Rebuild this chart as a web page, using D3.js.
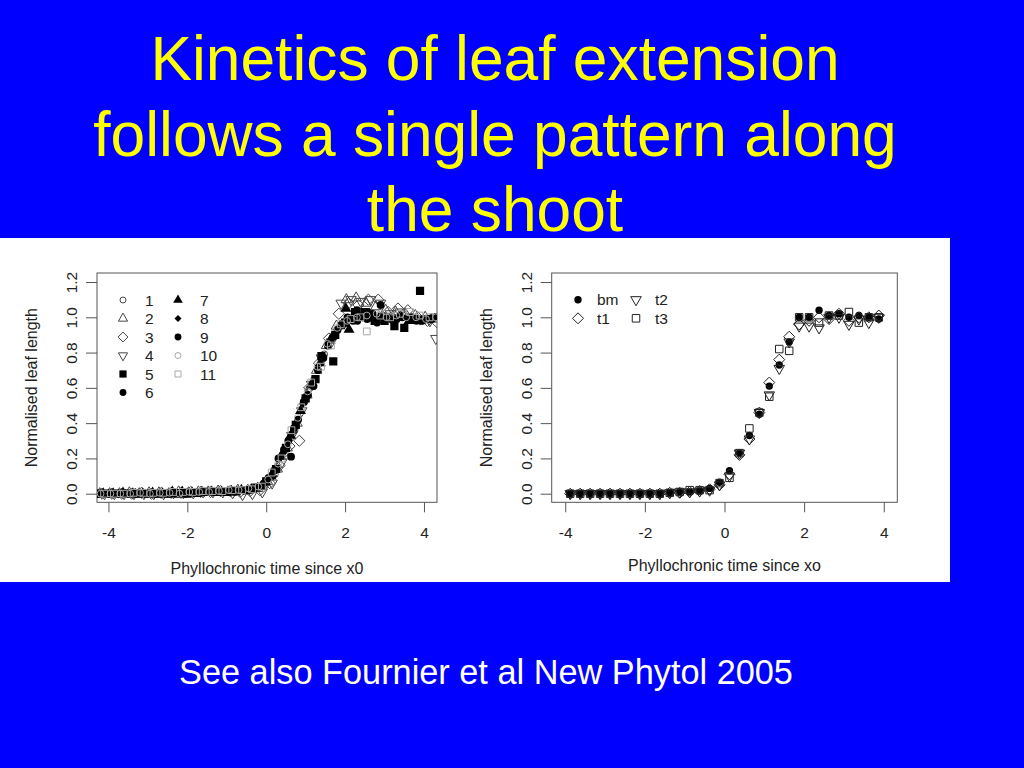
<!DOCTYPE html>
<html><head><meta charset="utf-8">
<script src="https://cdn.jsdelivr.net/npm/d3@7"></script>
<style>body{margin:0;background:#0000FF;} svg{display:block;}</style>
</head><body>
<svg id="c" width="1024" height="768"></svg>
<script>
// ---------- DATA ----------
const titleLines = ["Kinetics of leaf extension", "follows a single pattern along", "the shoot"];
const footnote = "See also Fournier et al New Phytol 2005";
const leftXLabel = "Phyllochronic time since x0";
const rightXLabel = "Phyllochronic time since xo";
const yLabel = "Normalised leaf length";
const xTicks = [-4, -2, 0, 2, 4];
const yTicks = [0.0, 0.2, 0.4, 0.6, 0.8, 1.0, 1.2];
const leftLegend = ["1","2","3","4","5","6","7","8","9","10","11"];
const rightLegend = ["bm","t1","t2","t3"];

const leaf1 = [[-4.28,0],[-4.03,0],[-3.78,0],[-3.53,0],[-3.28,0],[-3.03,0],[-2.78,0],[-2.53,0.005],[-2.28,0.005],[-2.03,0.01],[-1.78,0.01],[-1.53,0.01],[-1.28,0.01],[-1.03,0.015],[-0.78,0.015],[-0.53,0.02],[-0.28,0.03],[-0.03,0.05],[0.22,0.11],[0.47,0.23],[0.72,0.36],[0.97,0.52],[1.22,0.65],[1.47,0.79],[1.72,0.9],[1.97,0.97],[2.22,1.0],[2.47,1.02],[2.72,1.0],[2.97,1.01],[3.22,1.0],[3.47,1.02],[3.72,0.99],[3.97,0.98],[4.22,1.0]];
const leaf2 = [[-4.22,0],[-3.97,0],[-3.72,0],[-3.47,0.005],[-3.22,0],[-2.97,0.005],[-2.72,0.005],[-2.47,0],[-2.22,0.01],[-1.97,0.005],[-1.72,0.01],[-1.47,0.01],[-1.22,0.015],[-0.97,0.01],[-0.72,0.02],[-0.47,0.02],[-0.22,0.03],[0.03,0.07],[0.28,0.14],[0.53,0.26],[0.78,0.4],[1.03,0.56],[1.28,0.7],[1.53,0.84],[1.78,0.95],[2.03,1.1],[2.28,1.11],[2.53,1.08],[2.78,1.06],[3.03,1.04],[3.28,1.03],[3.53,1.02],[3.78,1.01],[4.03,1.0],[4.28,0.99]];
const leaf3 = [[-4.16,0],[-3.91,0],[-3.66,0],[-3.41,0],[-3.16,0.005],[-2.91,0],[-2.66,0.005],[-2.41,0.005],[-2.16,0.005],[-1.91,0.01],[-1.66,0.01],[-1.41,0.01],[-1.16,0.015],[-0.91,0.015],[-0.66,0.01],[-0.41,0.015],[-0.16,0.02],[0.09,0.06],[0.34,0.16],[0.59,0.27],[0.84,0.3],[1.09,0.6],[1.34,0.74],[1.59,0.88],[1.84,1.02],[2.09,1.08],[2.34,1.07],[2.59,1.1],[2.84,1.1],[3.09,1.03],[3.34,1.05],[3.59,1.04],[3.84,1.0],[4.09,0.98],[4.34,0.97]];
const leaf4 = [[-4.10,0],[-3.85,0],[-3.60,0],[-3.35,0],[-3.10,0],[-2.85,0],[-2.60,0],[-2.35,0.005],[-2.10,0.005],[-1.85,0.005],[-1.60,0.01],[-1.35,0.01],[-1.10,0.01],[-0.85,0.005],[-0.60,-0.005],[-0.35,0.0],[-0.10,0.01],[0.15,0.06],[0.40,0.18],[0.65,0.33],[0.90,0.47],[1.15,0.62],[1.40,0.77],[1.65,0.86],[1.90,1.08],[2.15,1.1],[2.40,1.09],[2.65,1.1],[2.90,1.08],[3.15,1.02],[3.40,1.03],[3.65,1.0],[3.90,0.99],[4.15,0.98],[4.30,0.88]];
const leaf5 = [[-4.25,0],[-4.0,0],[-3.75,0],[-3.5,0],[-3.25,0],[-3.0,0],[-2.75,0],[-2.5,0],[-2.25,0],[-2.0,0],[-1.75,0.005],[-1.5,0.01],[-1.25,0.01],[-1.0,0.01],[-0.75,0.015],[-0.5,0.02],[-0.25,0.035],[0.0,0.07],[0.25,0.14],[0.5,0.26],[0.75,0.39],[1.0,0.54],[1.25,0.65],[1.4,0.78],[1.7,0.75],[1.75,0.9],[2.0,0.97],[2.25,1.03],[2.5,1.03],[2.75,0.98],[3.0,0.98],[3.25,0.95],[3.5,0.94],[3.75,0.99],[3.9,1.15],[4.1,0.99]];
const leaf6 = [[-4.19,0],[-3.94,0],[-3.69,0],[-3.44,0],[-3.19,0],[-2.94,0],[-2.69,0],[-2.44,0],[-2.19,0],[-1.94,0.005],[-1.69,0.005],[-1.44,0.01],[-1.19,0.01],[-0.94,0.01],[-0.69,0.02],[-0.44,0.02],[-0.19,0.04],[0.06,0.09],[0.31,0.2],[0.56,0.3],[0.63,0.21],[0.81,0.42],[1.06,0.56],[1.31,0.7],[1.56,0.84],[1.81,0.93],[2.06,1.0],[2.31,0.98],[2.56,0.99],[2.81,0.97],[3.06,1.0],[3.31,0.99],[3.56,1.0],[3.81,0.98],[4.06,0.99],[4.3,1.0]];
const leaf7 = [[-4.13,0],[-3.88,0],[-3.63,0.005],[-3.38,0],[-3.13,0],[-2.88,0.005],[-2.63,0],[-2.38,0.01],[-2.13,0.01],[-1.88,0.005],[-1.63,0.01],[-1.38,0.01],[-1.13,0.01],[-0.88,0.015],[-0.63,0.02],[-0.38,0.025],[-0.13,0.04],[0.12,0.1],[0.37,0.21],[0.62,0.33],[0.87,0.47],[1.12,0.61],[1.37,0.74],[1.62,0.87],[1.87,0.95],[2.02,1.05],[2.1,0.93],[2.37,1.0],[2.62,1.02],[2.87,1.0],[3.12,0.99],[3.37,1.0],[3.62,0.98]];
const leaf8 = [[-4.07,0],[-3.82,0],[-3.57,0.005],[-3.32,0.01],[-3.07,0.005],[-2.82,0],[-2.57,0.005],[-2.32,0.01],[-2.07,0.01],[-1.82,0.01],[-1.57,0.005],[-1.32,0.01],[-1.07,0.01],[-0.82,0.015],[-0.57,0.015],[-0.32,0.025],[-0.07,0.05],[0.18,0.1],[0.43,0.23],[0.68,0.35],[0.93,0.51],[1.18,0.62],[1.43,0.78],[1.68,0.88],[1.93,0.97],[2.18,1.0],[2.43,1.01],[2.68,0.99],[2.93,1.0],[3.18,0.98],[3.43,1.01],[3.68,1.0],[3.93,0.99],[4.18,1.0]];
const leaf9 = [[-4.30,0],[-4.05,0],[-3.8,0],[-3.55,0],[-3.3,0],[-3.05,0],[-2.8,0],[-2.55,0],[-2.3,0.005],[-2.05,0],[-1.8,0.005],[-1.55,0.01],[-1.3,0.01],[-1.05,0.01],[-0.8,0.01],[-0.55,0.02],[-0.3,0.03],[-0.05,0.06],[0.2,0.13],[0.45,0.25],[0.7,0.37],[0.95,0.52],[1.2,0.61],[1.45,0.77],[1.7,0.89],[1.95,0.96],[2.2,0.98],[2.3,1.04],[2.45,1.0],[2.7,1.02],[2.9,1.07],[3.2,0.99],[3.45,1.0],[3.7,1.0],[3.95,0.98],[4.2,0.99]];
const leaf10 = [[-4.2,0],[-3.95,0],[-3.7,0],[-3.45,0],[-3.2,0.005],[-2.95,0],[-2.7,0.005],[-2.45,0.005],[-2.2,0],[-1.95,0.01],[-1.7,0.01],[-1.45,0.01],[-1.2,0.015],[-0.95,0.02],[-0.7,0.02],[-0.45,0.03],[-0.2,0.04],[0.05,0.08],[0.3,0.17],[0.55,0.28],[0.8,0.43],[1.05,0.58],[1.3,0.72],[1.55,0.85],[1.8,0.94],[2.05,0.98],[2.3,1.0],[2.55,1.01],[2.8,1.02],[3.05,1.0],[3.3,1.01],[3.55,1.0],[3.8,1.0],[4.05,0.99],[4.3,1.0]];
const leaf11 = [[-4.11,0],[-3.86,0],[-3.61,0],[-3.36,0.005],[-3.11,0.005],[-2.86,0.005],[-2.61,0.005],[-2.36,0.01],[-2.11,0.01],[-1.86,0.01],[-1.61,0.015],[-1.36,0.015],[-1.11,0.015],[-0.86,0.02],[-0.61,0.02],[-0.36,0.025],[-0.11,0.04],[0.14,0.12],[0.39,0.2],[0.64,0.36],[0.89,0.49],[1.14,0.63],[1.39,0.72],[1.64,0.84],[1.89,0.96],[2.14,0.99],[2.39,1.0],[2.55,0.92],[2.89,1.01],[3.14,1.0],[3.39,1.02],[3.64,1.03],[3.89,1.01],[4.14,1.0]];

const timeX = [-3.875,-3.625,-3.375,-3.125,-2.875,-2.625,-2.375,-2.125,-1.875,-1.625,-1.375,-1.125,-0.875,-0.625,-0.375,-0.125,0.125,0.375,0.625,0.875,1.125,1.375,1.625,1.875,2.125,2.375,2.625,2.875,3.125,3.375,3.625,3.875];
const bmY = [0,0,0,0,0,0,0,0,0,0,0.005,0.01,0.01,0.015,0.03,0.065,0.13,0.23,0.33,0.45,0.61,0.73,0.86,1.0,1.0,1.04,1.01,1.02,1.0,1.01,1.0,0.99];
const t1Y = [0,0,0,0,0,0,0,0,0,0,0.005,0.005,0.01,0.015,0.025,0.05,0.11,0.22,0.31,0.46,0.63,0.76,0.89,0.96,0.98,1.0,0.99,1.02,0.98,1.0,1.0,1.01];
const t2Y = [0,0,0,0,0,0,0,0,0,0,0.005,0.01,0.01,0.015,0.02,0.05,0.1,0.23,0.31,0.46,0.56,0.71,0.86,0.95,0.95,0.94,1.0,1.0,0.96,0.99,0.97,1.0];
const t3Y = [0,0,0,0,0,0,0,0,0,0,0.005,0.01,0.02,0.02,0.02,0.06,0.09,0.23,0.37,0.46,0.55,0.82,0.81,1.0,1.0,0.97,1.01,1.01,1.03,0.97,1.0,1.0];

// ---------- STYLE ----------
const FONT = "'Liberation Sans', Arial, Helvetica, sans-serif";
const GRAY = "#444", LIGHT = "#a8a8a8";
const leftStyles = [
  {t:"circle", s:3.4, fill:"none", stroke:GRAY},
  {t:"triangle", s:10.5, fill:"none", stroke:GRAY},
  {t:"diamond", s:5.6, fill:"none", stroke:GRAY},
  {t:"triangleDown", s:10.5, fill:"none", stroke:GRAY},
  {t:"square", s:8.2, fill:"#000", stroke:"none"},
  {t:"circle", s:3.9, fill:"#000", stroke:"none"},
  {t:"triangle", s:11, fill:"#000", stroke:"none"},
  {t:"diamond", s:4, fill:"#000", stroke:"none"},
  {t:"circle", s:3.9, fill:"#000", stroke:"none"},
  {t:"circle", s:3.4, fill:"none", stroke:LIGHT},
  {t:"square", s:6.8, fill:"none", stroke:LIGHT}
];
const legendScale = 0.88;
const rightStyles = [
  {t:"circle", s:3.7, fill:"#000", stroke:"none"},
  {t:"diamond", s:5.5, fill:"none", stroke:"#222"},
  {t:"triangleDown", s:10.5, fill:"none", stroke:"#222"},
  {t:"square", s:7.5, fill:"none", stroke:"#222"}
];

function sym(t, s) {
  if (t === "circle") return `M${-s},0A${s},${s} 0 1,0 ${s},0A${s},${s} 0 1,0 ${-s},0Z`;
  if (t === "square") { const h = s/2; return `M${-h},${-h}H${h}V${h}H${-h}Z`; }
  if (t === "diamond") return `M0,${-s}L${s},0L0,${s}L${-s},0Z`;
  const h = s*0.866;
  if (t === "triangle") return `M0,${-h*2/3}L${s/2},${h/3}L${-s/2},${h/3}Z`;
  return `M0,${h*2/3}L${s/2},${-h/3}L${-s/2},${-h/3}Z`;
}

const svg = d3.select("#c");
svg.append("rect").attr("width",1024).attr("height",768).attr("fill","#0000FF");

// Title
svg.append("g").selectAll("text").data(titleLines).join("text")
  .attr("x", 495).attr("y", (d,i) => [80,156,231][i])
  .attr("text-anchor","middle").attr("fill","#FFFF00")
  .style("font-family", FONT).style("font-size","62.3px").text(d => d);

// White panel
svg.append("rect").attr("x",0).attr("y",238).attr("width",950).attr("height",344).attr("fill","#fff");

// Footer
svg.append("text").attr("x",486).attr("y",684).attr("text-anchor","middle")
  .attr("fill","#fff").style("font-family",FONT).style("font-size","34.3px").text(footnote);

function panel(id, box, xDomain, xLabel, xLabelY) {
  const g = svg.append("g");
  const x = d3.scaleLinear().domain(xDomain).range([box.l, box.r]);
  const y = d3.scaleLinear().domain([-0.0488, 1.2512]).range([box.b, box.t]);
  svg.append("clipPath").attr("id", id).append("rect")
    .attr("x", box.l).attr("y", box.t).attr("width", box.r-box.l).attr("height", box.b-box.t);
  const xa = g.append("g").attr("transform", `translate(0,${box.b})`)
    .call(d3.axisBottom(x).tickValues(xTicks).tickSize(10).tickFormat(d => String(d)));
  xa.select(".domain").remove();
  xa.selectAll("line").attr("stroke","#555");
  xa.selectAll("text").attr("y", 35.7).attr("dy", null).attr("fill","#222")
    .style("font-family",FONT).style("font-size","15.5px");
  const ya = g.append("g").attr("transform", `translate(${box.l},0)`)
    .call(d3.axisLeft(y).tickValues(yTicks).tickSize(11).tickFormat(d3.format(".1f")));
  ya.select(".domain").remove();
  ya.selectAll("line").attr("stroke","#555");
  ya.selectAll("text").attr("transform","rotate(-90)").attr("x",0).attr("y",-20).attr("dy",null)
    .attr("text-anchor","middle").attr("fill","#222")
    .style("font-family",FONT).style("font-size","15.5px");
  g.append("rect").attr("x",box.l).attr("y",box.t).attr("width",box.r-box.l).attr("height",box.b-box.t)
    .attr("fill","none").attr("stroke","#555").attr("stroke-width",1);
  g.append("text").attr("x",(box.l+box.r)/2).attr("y",xLabelY).attr("text-anchor","middle")
    .attr("fill","#222").style("font-family",FONT).style("font-size","16px").text(xLabel);
  g.append("text").attr("transform",`translate(${box.l-60},${(box.t+box.b)/2}) rotate(-90)`)
    .attr("text-anchor","middle").attr("fill","#222").style("font-family",FONT).style("font-size","16px").text(yLabel);
  const pts = g.append("g").attr("clip-path", `url(#${id})`);
  return {x, y, pts, g};
}

// Left panel
const L = panel("clipL", {l:97, r:437, t:273, b:502.3}, [-4.29, 4.33], leftXLabel, 574);
const leaves = [leaf1, leaf2, leaf3, leaf4, leaf5, leaf6, leaf7, leaf8, leaf9, leaf10, leaf11];
leaves.forEach((ser, i) => {
  const st = leftStyles[i];
  L.pts.append("g").selectAll("path").data(ser).join("path")
    .attr("d", sym(st.t, st.s))
    .attr("transform", d => `translate(${L.x(d[0])},${L.y(d[1])})`)
    .attr("fill", st.fill).attr("stroke", st.stroke).attr("stroke-width", 1);
});
const legL = L.g.append("g");
leftLegend.forEach((lab, i) => {
  const col = i < 6 ? 0 : 1, row = i < 6 ? i : i - 6;
  const sx = [123, 178][col], ty = 300 + row * 18.5;
  const st = leftStyles[i];
  legL.append("path").attr("d", sym(st.t, st.s * legendScale)).attr("transform", `translate(${sx},${ty})`)
    .attr("fill", st.fill).attr("stroke", st.stroke);
  legL.append("text").attr("x", [145, 200][col]).attr("y", ty + 5.5).attr("fill","#222")
    .style("font-family",FONT).style("font-size","15.5px").text(lab);
});

// Right panel
const R = panel("clipR", {l:551.7, r:897.3, t:273, b:502.3}, [-4.34, 4.34], rightXLabel, 571);
const rightSeries = [bmY, t1Y, t2Y, t3Y];
rightSeries.forEach((ys, i) => {
  const st = rightStyles[i];
  R.pts.append("g").selectAll("path").data(ys.map((v, k) => [timeX[k], v])).join("path")
    .attr("d", sym(st.t, st.s))
    .attr("transform", d => `translate(${R.x(d[0])},${R.y(d[1])})`)
    .attr("fill", st.fill).attr("stroke", st.stroke).attr("stroke-width", 1);
});
const legR = R.g.append("g");
const rightLegPos = [[578,299.7],[578,318.3],[636,299.7],[636,318.3]];
rightLegend.forEach((lab, i) => {
  const st = rightStyles[i];
  const [sx, ty] = rightLegPos[i];
  legR.append("path").attr("d", sym(st.t, st.s)).attr("transform", `translate(${sx},${ty})`)
    .attr("fill", st.fill).attr("stroke", st.stroke);
  legR.append("text").attr("x", sx + 19).attr("y", ty + 5.5).attr("fill","#222")
    .style("font-family",FONT).style("font-size","15.5px").text(lab);
});
</script>
</body></html>
